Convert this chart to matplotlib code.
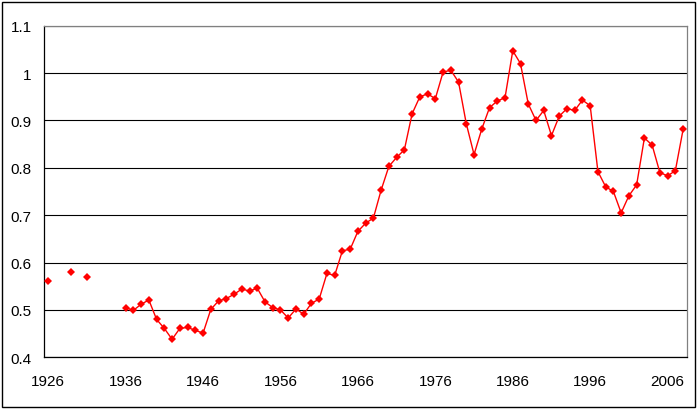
import numpy as np
import matplotlib
matplotlib.use("Agg")
import matplotlib.pyplot as plt
from matplotlib.patches import Rectangle

# yearly values, 1926-2008 (nan = no data)
years = np.arange(1926, 2009)
values = [
    0.562, np.nan, np.nan, 0.581, np.nan, 0.569, np.nan, np.nan, np.nan, np.nan,  # 1926-1935
    0.505, 0.499, 0.512, 0.521, 0.480, 0.461, 0.438, 0.461, 0.463, 0.457,  # 1936-1945
    0.451, 0.501, 0.519, 0.524, 0.533, 0.544, 0.540, 0.546, 0.517, 0.505,  # 1946-1955
    0.500, 0.483, 0.502, 0.491, 0.514, 0.523, 0.577, 0.573, 0.625, 0.628,  # 1956-1965
    0.666, 0.683, 0.694, 0.753, 0.803, 0.822, 0.838, 0.914, 0.950, 0.956,  # 1966-1975
    0.946, 1.002, 1.006, 0.981, 0.893, 0.828, 0.882, 0.927, 0.941, 0.948,  # 1976-1985
    1.047, 1.020, 0.935, 0.900, 0.921, 0.868, 0.909, 0.925, 0.921, 0.943,  # 1986-1995
    0.931, 0.792, 0.760, 0.750, 0.705, 0.741, 0.764, 0.863, 0.848, 0.790,  # 1996-2005
    0.783, 0.794, 0.881,  # 2006-2008
]
x_ticks = np.arange(1926, 2007, 10)
y_ticks = [0.4, 0.5, 0.6, 0.7, 0.8, 0.9, 1.0, 1.1]
y_labels = ["0.4", "0.5", "0.6", "0.7", "0.8", "0.9", "1", "1.1"]

plt.rcParams['font.family'] = ['Liberation Sans', 'DejaVu Sans']

fig = plt.figure(figsize=(6.98, 4.10), dpi=100)
ax = fig.add_axes([0.0635, 0.1261, 0.9207, 0.8088])

ax.plot(years, values, color='#FF0000', lw=1.0, marker='D', markersize=4.4,
        markeredgewidth=0, zorder=3)

ax.set_xlim(1925.5, 2008.5)
ax.set_ylim(0.4, 1.1)
ax.set_xticks(x_ticks)
ax.set_xticklabels([str(t) for t in x_ticks])
ax.set_yticks(y_ticks)
ax.set_yticklabels(y_labels)
ax.tick_params(axis='both', length=0, labelsize=11)
ax.tick_params(axis='x', pad=12)
ax.tick_params(axis='y', pad=9)

ax.grid(axis='y', color='#000000', lw=0.8)
ax.set_axisbelow(True)
for side in ['left', 'bottom']:
    ax.spines[side].set_color('black')
    ax.spines[side].set_linewidth(0.9)
for side in ['top', 'right']:
    ax.spines[side].set_color('#808080')
    ax.spines[side].set_linewidth(0.9)

# outer chart border
fig.patches.append(Rectangle((2 / 698, 2 / 410), 693 / 698, 405 / 410,
                             transform=fig.transFigure, fill=False,
                             edgecolor='black', lw=1.0))

fig.savefig('out.png', dpi=100)
